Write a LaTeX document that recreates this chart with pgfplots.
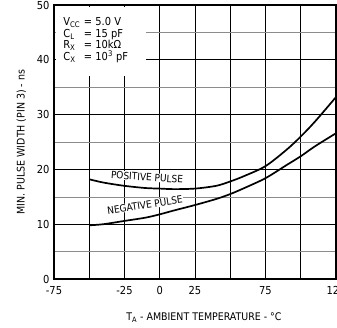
\documentclass[border=0pt]{standalone}
\usepackage{fontspec}
\setmainfont{DejaVu Sans Condensed}
\usepackage{pgfplots}
\pgfplotsset{compat=1.18}
\begin{document}
\begin{tikzpicture}[x=1pt,y=1pt]
\begin{axis}[
  at={(0,0)}, anchor=south west,
  scale only axis, width=282pt, height=274pt,
  xmin=-75, xmax=125, ymin=0, ymax=50,
  xtick={-75,-50,-25,0,25,50,75,100,125},
  xticklabels={-75,,-25,0,25,,75,,125},
  ytick={0,10,20,30,40,50},
  minor ytick={5,15,25,35,45},
  grid=both,
  major grid style={black, line width=0.8pt},
  minor grid style={black!45, line width=0.6pt},
  axis line style={black, line width=1.2pt},
  tick style={draw=none},
  /pgf/number format/assume math mode=true,
  ticklabel style={font=\fontsize{11}{13}\selectfont},
  xticklabel style={yshift=-4pt},
  yticklabel style={xshift=-1pt},
  xlabel={T\textsubscript{A} - AMBIENT TEMPERATURE - °C},
  ylabel={MIN. PULSE WIDTH (PIN 3) - ns},
  label style={font=\fontsize{10.5}{12}\selectfont},
  xlabel style={xshift=9pt, yshift=-11pt},
  ylabel style={yshift=4pt},
  clip=false,
]
\addplot[black, line width=1.7pt, smooth] coordinates {
(-50,18.2) (-40,17.6) (-25,17.0) (-10,16.6) (0,16.5) (10,16.4) (25,16.5) (40,17.0) (50,17.8) (60,18.8) (75,20.6) (90,23.6) (100,26.0) (110,28.7) (125,33.2)};
\addplot[black, line width=1.7pt, smooth] coordinates {
(-50,9.8) (-40,10.0) (-25,10.6) (-10,11.2) (0,11.8) (10,12.5) (25,13.5) (40,14.6) (50,15.5) (60,16.6) (75,18.4) (90,20.8) (100,22.4) (110,24.2) (125,26.6)};
\node[font=\fontsize{10}{12}\selectfont, rotate=-4, fill=white, inner sep=0.5pt] at (axis cs:-9,18.6) {POSITIVE PULSE};
\node[font=\fontsize{10}{12}\selectfont, rotate=8.5, fill=white, inner sep=0.5pt] at (axis cs:-10.5,13.5) {NEGATIVE PULSE};
\fill[white] (axis cs:-73.8,37) rectangle (axis cs:-10,49.6);
\node[anchor=west, font=\fontsize{11}{13}\selectfont, inner sep=0pt, align=left] at (axis cs:-68.5,43.5) {%
\begin{tabular}{@{}l@{\,\,}l@{}}
V\textsubscript{CC} & = 5.0 V\\[-1.5pt]
C\textsubscript{L} & = 15 pF\\[-1.5pt]
R\textsubscript{X} & = 10kΩ\\[-1.5pt]
C\textsubscript{X} & = 10\textsuperscript{3} pF
\end{tabular}};
\end{axis}
\pgfresetboundingbox
\useasboundingbox (-54pt,-48pt) rectangle (283pt,279pt);
\end{tikzpicture}
\end{document}
